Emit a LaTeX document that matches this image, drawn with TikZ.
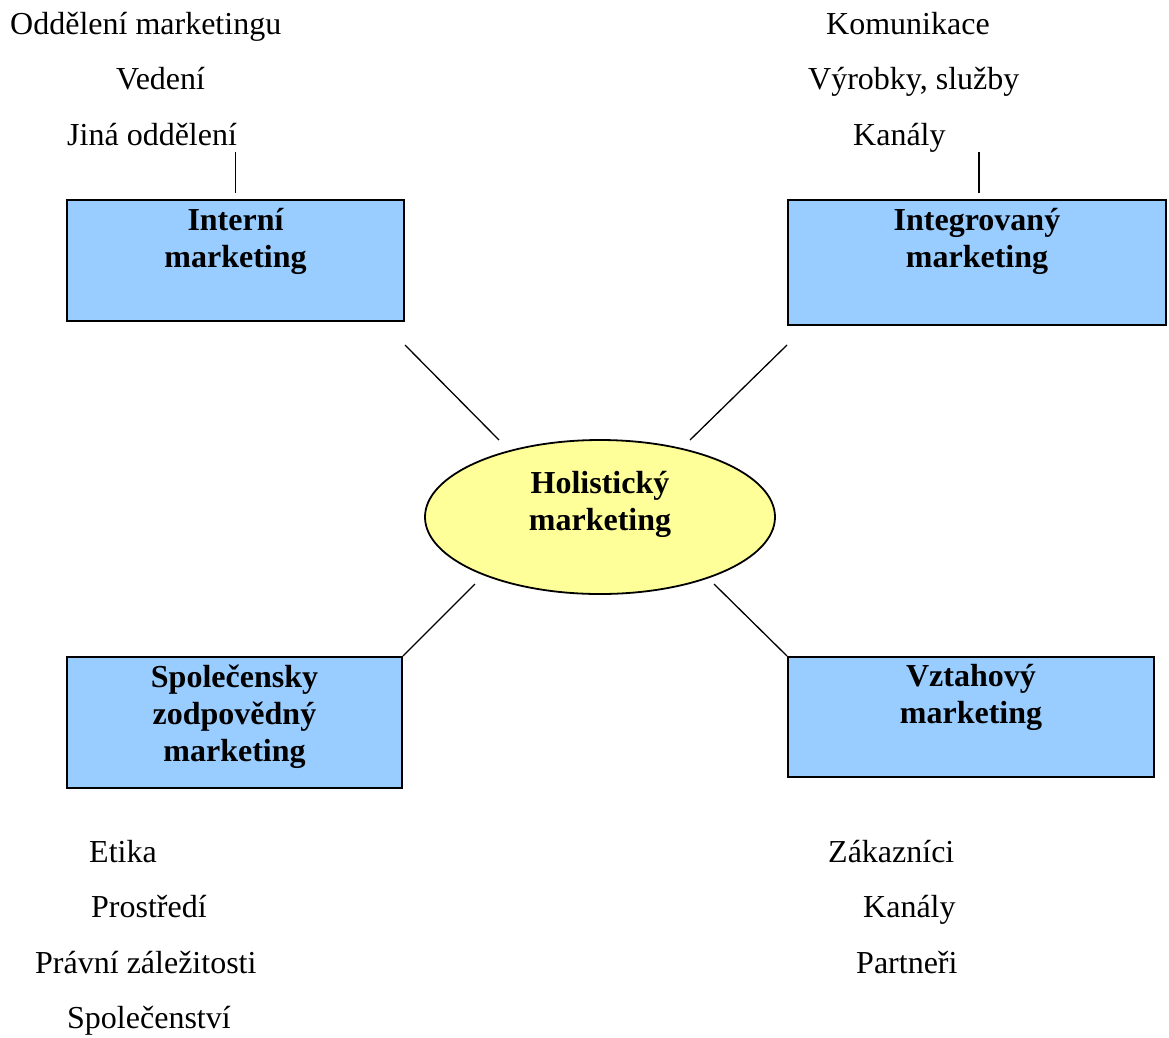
\documentclass[tikz,border=0pt]{standalone}
\usepackage{fontspec}
\setmainfont{Liberation Serif}
\usetikzlibrary{shapes.geometric,calc}
\definecolor{boxblue}{HTML}{99CCFF}
\definecolor{ellyellow}{HTML}{FFFF99}
\begin{document}
\begin{tikzpicture}[x=1pt,y=-1pt,
  mbox/.style={draw=black,line width=2pt,fill=boxblue,rectangle,inner sep=0pt,anchor=north west},
  btext/.style={font=\fontsize{32}{37}\selectfont\bfseries,align=center,inner sep=0pt,anchor=base},
  item/.style={font=\fontsize{32}{37}\selectfont,inner sep=0pt,anchor=base west},
  conn/.style={line width=1.3pt}]
\useasboundingbox (0,0) rectangle (1169,1037);
% boxes
\node[mbox,minimum width=337pt,minimum height=121pt] (interni) at (66,199) {};
\node[mbox,minimum width=378pt,minimum height=125pt] (integ) at (787,199) {};
\node[mbox,minimum width=335pt,minimum height=131pt] (spol) at (66,656) {};
\node[mbox,minimum width=366pt,minimum height=120pt] (vztah) at (787,656) {};
\node[draw=black,line width=1.8pt,fill=ellyellow,ellipse,inner sep=0pt,minimum width=350pt,minimum height=154pt] (holi) at (600,517) {};
% box texts (base = baseline of the last line)
\node[btext] (tinterni) at ($(interni.north)+(0,68)$) {Interní\\marketing};
\node[btext] (tinteg) at ($(integ.north)+(0,68)$) {Integrovaný\\marketing};
\node[btext] (tspol) at ($(spol.north)+(0,105)$) {Společensky\\zodpovědný\\marketing};
\node[btext] (tvztah) at ($(vztah.north)+(0,67)$) {Vztahový\\marketing};
\node[btext] (tholi) at ($(holi.center)+(0,13)$) {Holistický\\marketing};
% item lists
\node[item] (a1) at (10,34) {Oddělení marketingu};
\node[item] (a2) at (116,89) {Vedení};
\node[item] (a3) at (67,145) {Jiná oddělení};
\node[item] (b1) at (826,34) {Komunikace};
\node[item] (b2) at (808,89) {Výrobky, služby};
\node[item] (b3) at (853,145) {Kanály};
\node[item] (c1) at (89,862) {Etika};
\node[item] (c2) at (91,917) {Prostředí};
\node[item] (c3) at (35,973) {Právní záležitosti};
\node[item] (c4) at (67,1028) {Společenství};
\node[item] (d1) at (828,862) {Zákazníci};
\node[item] (d2) at (863,917) {Kanály};
\node[item] (d3) at (856,973) {Partneři};
% connector end points
\coordinate (p1) at ($(interni.south east)+(0,23)$);
\coordinate (q1) at ($(holi.center)+(-101,-77)$);
\coordinate (p2) at ($(integ.south west)+(0,19)$);
\coordinate (q2) at ($(holi.center)+(90,-77)$);
\coordinate (q3) at ($(holi.center)+(-125,67)$);
\coordinate (q4) at ($(holi.center)+(114,67)$);
\coordinate (v1a) at ($(interni.north)+(0,-47)$);
\coordinate (v1b) at ($(interni.north)+(0,-6)$);
\coordinate (v2a) at ($(integ.north)+(2,-47)$);
\coordinate (v2b) at ($(integ.north)+(2,-6)$);
% connectors
\draw[conn] (p1) -- (q1);
\draw[conn] (p2) -- (q2);
\draw[conn] (q3) -- (spol.north east);
\draw[conn] (q4) -- (vztah.north west);
\draw[conn] (v1a) -- (v1b);
\draw[conn] (v2a) -- (v2b);
\end{tikzpicture}
\end{document}
